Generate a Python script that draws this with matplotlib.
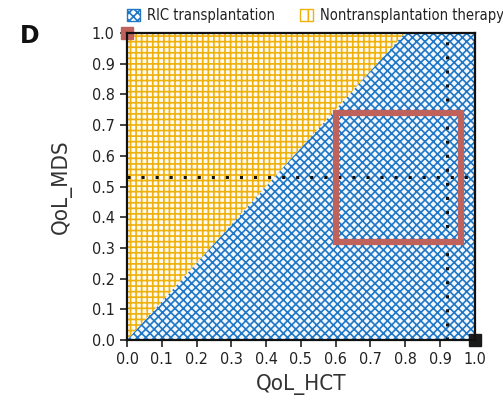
import matplotlib
matplotlib.use("Agg")
import matplotlib.pyplot as plt
from matplotlib.patches import Polygon, Rectangle, Patch

plt.rcParams['font.family'] = ['DejaVu Sans']
plt.rcParams['font.stretch'] = 'condensed'
plt.rcParams['hatch.linewidth'] = 1.2

# Decision boundary between the two strategies (QoL_HCT, QoL_MDS)
boundary_hct = [0.0, 0.8]
boundary_mds = [0.0, 1.0]

# Plausible range box and reference utilities
box_hct = [0.60, 0.96]
box_mds = [0.32, 0.74]
ref_hct = 0.92
ref_mds = 0.53

ticks = [0.0, 0.1, 0.2, 0.3, 0.4, 0.5, 0.6, 0.7, 0.8, 0.9, 1.0]
tick_labels = [f"{t:.1f}" for t in ticks]

series = ["RIC transplantation", "Nontransplantation therapy"]

BLUE = "#1f77c6"
GOLD = "#efb10c"
RED = "#c0625c"

fig = plt.figure(figsize=(5.03, 4.05), dpi=100)
ax = fig.add_axes([0.2525, 0.1605, 0.6915, 0.758])

# Nontransplantation region (above the boundary)
yellow = Polygon([(boundary_hct[0], boundary_mds[0]), (boundary_hct[1], boundary_mds[1]), (0, 1)],
                 closed=True, facecolor="#fffaf0", edgecolor=GOLD, hatch="+++", linewidth=0)
# RIC transplantation region (below the boundary)
blue = Polygon([(boundary_hct[0], boundary_mds[0]), (1, 0), (1, 1), (boundary_hct[1], boundary_mds[1])],
               closed=True, facecolor="#f4f8fc", edgecolor=BLUE, hatch="xxxx", linewidth=0)
ax.add_patch(yellow)
ax.add_patch(blue)

# Reference dotted lines
ax.plot([0, 1], [ref_mds, ref_mds], color="#111111", lw=2.2, linestyle=(0, (1, 3.6)),
        dash_capstyle="butt", zorder=4)
ax.plot([ref_hct, ref_hct], [0, 1], color="#111111", lw=2.2, linestyle=(0, (1, 3.6)),
        dash_capstyle="butt", zorder=4)

# Plausible range box
ax.add_patch(Rectangle((box_hct[0], box_mds[0]), box_hct[1] - box_hct[0], box_mds[1] - box_mds[0],
                       fill=False, edgecolor=RED, linewidth=4.5, zorder=5))

# Corner markers
ax.plot([0], [1], marker="s", markersize=8, color=RED, clip_on=False, zorder=6)
ax.plot([1], [0], marker="s", markersize=8, color="#1a1a1a", clip_on=False, zorder=6)

ax.set_xlim(0, 1)
ax.set_ylim(0, 1)
ax.set_xticks(ticks)
ax.set_yticks(ticks)
ax.set_xticklabels(tick_labels)
ax.set_yticklabels(tick_labels)
ax.tick_params(direction="out", length=5, width=1.2, labelsize=11.5, colors="#222222", pad=4)
for s in ax.spines.values():
    s.set_linewidth(1.6)
    s.set_color("#111111")
    s.set_zorder(7)

ax.set_xlabel("QoL_HCT", fontsize=16, color="#333333", labelpad=5)
ax.set_ylabel("QoL_MDS", fontsize=16, color="#333333", labelpad=14)

fig.text(0.04, 0.895, "D", fontsize=17, fontweight="bold", color="#111111", stretch="normal")

handles = [Patch(facecolor="white", edgecolor=BLUE, hatch="xxxx", linewidth=1.0),
           Patch(facecolor="white", edgecolor=GOLD, hatch="+", linewidth=1.0)]
fig.legend(handles, series, loc="upper left", bbox_to_anchor=(0.226, 1.012), ncol=2,
           frameon=False, fontsize=10.5, handlelength=0.9, handleheight=0.9,
           handletextpad=0.5, columnspacing=1.7, labelcolor="#222222")

fig.savefig("out.png", dpi=100)
